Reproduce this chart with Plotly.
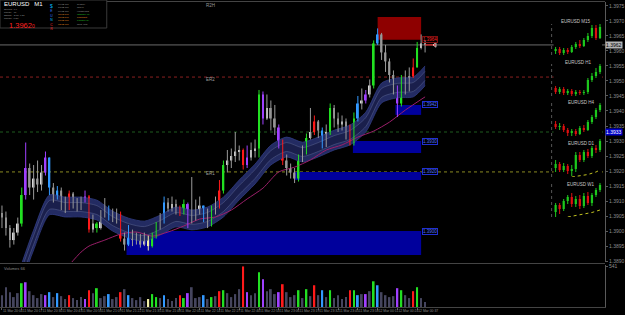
import plotly.graph_objects as go

# ---------------- main EURUSD M1 data ----------------
first_open = 1.3906
closes = [
    1.39045, 1.3901, 1.3897, 1.38995, 1.39025, 1.3912, 1.3921, 1.39145, 1.39175, 1.39155,
    1.39195, 1.39245, 1.39145, 1.39115, 1.39135, 1.39095, 1.39075, 1.39125, 1.39095, 1.39085,
    1.39105, 1.39115, 1.39005, 1.39025, 1.3901, 1.3905, 1.3907, 1.39055, 1.39045, 1.39055,
    1.38975, 1.38955, 1.38995, 1.3897, 1.38985, 1.38955, 1.38975, 1.3895, 1.38985, 1.39015,
    1.39035, 1.39095, 1.39075, 1.3909, 1.39075, 1.3906, 1.3909, 1.3903, 1.39055, 1.39065,
    1.39085, 1.3905, 1.39035, 1.39065, 1.39085, 1.39135, 1.3922, 1.39235, 1.3925, 1.39265,
    1.3927, 1.3922, 1.39245, 1.3927, 1.39275, 1.39455, 1.39375, 1.3941, 1.39375, 1.39345,
    1.39295, 1.39235, 1.3921, 1.39195, 1.39175, 1.39235, 1.39265, 1.3931, 1.3933, 1.39365,
    1.39335, 1.39285, 1.3933, 1.3941, 1.39375, 1.39355, 1.39365, 1.3933, 1.39295, 1.39375,
    1.39425, 1.39435, 1.39455, 1.39485, 1.39625, 1.39655, 1.39595, 1.39565, 1.3952, 1.39475,
    1.39425, 1.39505, 1.39475, 1.39515, 1.39545, 1.3961, 1.39625, 1.3962]
highs = [
    1.39085, 1.39065, 1.3902, 1.3901, 1.39045, 1.39145, 1.39295, 1.39225, 1.3922, 1.39235,
    1.3922, 1.39265, 1.39245, 1.3916, 1.3915, 1.39145, 1.39115, 1.39135, 1.3913, 1.3911,
    1.39115, 1.39135, 1.3912, 1.39055, 1.3903, 1.3907, 1.3911, 1.39085, 1.39075, 1.39075,
    1.39065, 1.38995, 1.3902, 1.39005, 1.38995, 1.3899, 1.38995, 1.38985, 1.38995, 1.3903,
    1.3906, 1.39115, 1.3911, 1.39115, 1.39105, 1.39085, 1.39105, 1.39095, 1.3918, 1.39105,
    1.39115, 1.39085, 1.39075, 1.39085, 1.39115, 1.3917, 1.39235, 1.3927, 1.39275, 1.3933,
    1.39285, 1.39275, 1.39285, 1.39295, 1.39305, 1.3947, 1.39465, 1.39455, 1.39435, 1.3942,
    1.39355, 1.39305, 1.39255, 1.39225, 1.3921, 1.39255, 1.39285, 1.39325, 1.3941, 1.39385,
    1.3937, 1.39345, 1.39355, 1.39425, 1.3942, 1.39395, 1.39385, 1.39375, 1.39355, 1.39395,
    1.3945, 1.39475, 1.3947, 1.39505, 1.39635, 1.39675, 1.3966, 1.3962, 1.39575, 1.39535,
    1.39485, 1.3952, 1.39535, 1.39545, 1.39575, 1.3963, 1.39655, 1.39635]
lows = [
    1.3901, 1.38985, 1.38945, 1.38955, 1.38985, 1.39015, 1.39105, 1.3912, 1.39105, 1.3913,
    1.39135, 1.39185, 1.3912, 1.39095, 1.39105, 1.3907, 1.3906, 1.3907, 1.39075, 1.39065,
    1.3907, 1.39095, 1.38995, 1.38995, 1.38995, 1.39005, 1.39045, 1.39035, 1.3903, 1.39025,
    1.38965, 1.38935, 1.3895, 1.3895, 1.38955, 1.38945, 1.3895, 1.38935, 1.38945, 1.38975,
    1.39005, 1.39025, 1.39065, 1.39065, 1.39055, 1.3905, 1.39055, 1.3901, 1.39025, 1.39035,
    1.39055, 1.3903, 1.3901, 1.39015, 1.39055, 1.39075, 1.39125, 1.39195, 1.3921, 1.3923,
    1.39235, 1.39205, 1.3921, 1.39235, 1.39245, 1.39245, 1.39355, 1.3937, 1.39335, 1.3932,
    1.39275, 1.3922, 1.39185, 1.39175, 1.3916, 1.39165, 1.3923, 1.39255, 1.39305, 1.3932,
    1.3931, 1.39275, 1.3928, 1.3932, 1.39345, 1.3933, 1.39335, 1.39305, 1.39285, 1.39285,
    1.39365, 1.39405, 1.39425, 1.39445, 1.39475, 1.3962, 1.3957, 1.3953, 1.39495, 1.39455,
    1.3938, 1.39415, 1.39455, 1.39465, 1.3951, 1.39545, 1.39605, 1.39595]
# indicator state per bar: n = neutral, g/r/b/p/y = highlighted states
signal = list("nnnnngpnnn" "npbnbnnrnn" "nprngnnbnn" "rnbnnnnygg" "nbnnnrgpnn"
              "nbngnrgnnn" "nrpnngpnnn" "prnnngngnr" "nbngnnnnrg" "bnpngbnnnn" "pgnnrgnn")
volumes = [
    158, 264, 198, 132, 185, 317, 330, 211, 158, 119,
    172, 158, 198, 132, 185, 145, 106, 158, 119, 92,
    132, 106, 224, 185, 251, 119, 145, 172, 106, 132,
    198, 238, 158, 119, 92, 132, 79, 106, 172, 132,
    119, 158, 106, 79, 119, 158, 119, 185, 264, 119,
    132, 158, 106, 132, 145, 211, 224, 185, 132, 172,
    238, 541, 198, 158, 185, 462, 370, 211, 238, 172,
    198, 304, 198, 132, 158, 224, 119, 238, 145, 290,
    158, 224, 132, 224, 119, 158, 106, 132, 224, 224,
    158, 172, 172, 211, 343, 290, 198, 158, 132, 145,
    251, 224, 158, 119, 211, 264, 119, 66]

band_bars = [4, 8, 12, 16, 20, 24, 28, 32, 36, 40, 44, 48, 52, 56, 60, 64, 68, 72,
             76, 80, 84, 88, 92, 96, 100, 104, 107]
band_mid = [1.3882, 1.3897, 1.39087, 1.3908, 1.3908, 1.3907, 1.39033, 1.3901, 1.3900,
            1.3902, 1.39047, 1.39037, 1.39047, 1.3908, 1.39137, 1.3919, 1.39253, 1.3928,
            1.39263, 1.3928, 1.39303, 1.3932, 1.39363, 1.3946, 1.39477, 1.3948, 1.39517]
band_half = 0.00033

ma_bars = [17, 20, 22, 26, 30, 34, 38, 42, 46, 50, 54, 58, 62, 66, 70, 74, 78, 82,
           86, 90, 94, 98, 102, 107]
ma_vals = [1.38887, 1.3893, 1.3895, 1.3897, 1.3899, 1.38997, 1.38983, 1.38997, 1.39017,
           1.3904, 1.39047, 1.3907, 1.39107, 1.39143, 1.39197, 1.39213, 1.39237, 1.3927,
           1.39287, 1.39313, 1.39333, 1.39363, 1.39403, 1.39447]

zone_start = [31.5, 74, 88.75, 99.5]
zone_end = [106, 106, 106, 106]
zone_top = [1.3900, 1.39197, 1.3930, 1.3942]
zone_bottom = [1.3892, 1.3917, 1.3926, 1.39387]
supply_start, supply_end, supply_top, supply_bottom = 95, 106, 1.39713, 1.39637

level_prices = [1.39513, 1.3933, 1.39197]
level_names = ["ER2", "", "ER1"]
top_level_price, top_level_name = 1.39752, "R2H"

time_ticks = list(range(0, 108, 5))
time_labels = ["11 Mar 20:04", "11 Mar 20:17", "11 Mar 20:30", "11 Mar 20:43", "11 Mar 20:56",
               "11 Mar 21:09", "11 Mar 21:22", "11 Mar 21:35", "11 Mar 21:48", "11 Mar 22:01",
               "11 Mar 22:14", "11 Mar 22:27", "11 Mar 22:40", "11 Mar 22:53", "11 Mar 23:06",
               "11 Mar 23:19", "11 Mar 23:32", "11 Mar 23:45", "11 Mar 23:58", "12 Mar 00:11",
               "12 Mar 00:24", "12 Mar 00:37"]

session_times = ["09:02 PM", "10:02 PM", "09:02 PM", "11:02 PM", "11:02 PM", "10:02 PM", "05:02 PM"]
session_names = ["Sydney", "Tokyo", "HongKong", "Istanbul (3)", "Frankfurt", "London (1)", "New York"]
info_rows = ["Spread:  0.9", "Range:   71", "Swaps:  -2.88  0.27", "Candle:  0:28"]
flag_letters = ["$", "E", "U", "N", "C", "R"]

# ---------------- other-timeframe mini charts ----------------
mini = [
    dict(name="EURUSD M15",
         o=[1.3949, 1.3951, 1.3947, 1.3950, 1.3948, 1.3953, 1.3956, 1.3954, 1.3960, 1.3964, 1.3972, 1.3962],
         c=[1.3951, 1.3947, 1.3950, 1.3948, 1.3953, 1.3956, 1.3954, 1.3960, 1.3964, 1.3972, 1.3962, 1.3973],
         h=[1.3953, 1.3953, 1.3952, 1.3952, 1.3955, 1.3958, 1.3960, 1.3962, 1.3967, 1.3975, 1.3975, 1.3976],
         l=[1.3946, 1.3945, 1.3945, 1.3946, 1.3947, 1.3951, 1.3952, 1.3953, 1.3958, 1.3962, 1.3960, 1.3961],
         ma_x=[], ma_y=[]),
    dict(name="EURUSD H1",
         o=[1.3912, 1.3908, 1.3911, 1.3907, 1.3909, 1.3906, 1.3908, 1.3907, 1.3908, 1.3920, 1.3924, 1.3928],
         c=[1.3908, 1.3911, 1.3907, 1.3909, 1.3906, 1.3908, 1.3907, 1.3908, 1.3920, 1.3924, 1.3928, 1.3934],
         h=[1.3914, 1.3913, 1.3913, 1.3911, 1.3911, 1.3910, 1.3910, 1.3910, 1.3922, 1.3927, 1.3932, 1.3936],
         l=[1.3906, 1.3906, 1.3905, 1.3905, 1.3904, 1.3904, 1.3905, 1.3905, 1.3906, 1.3918, 1.3922, 1.3926],
         ma_x=[], ma_y=[]),
    dict(name="EURUSD H4",
         o=[1.3876, 1.3873, 1.3874, 1.3870, 1.3867, 1.3869, 1.3866, 1.3872, 1.3870, 1.3878, 1.3883, 1.3890],
         c=[1.3873, 1.3874, 1.3870, 1.3867, 1.3869, 1.3866, 1.3872, 1.3870, 1.3878, 1.3883, 1.3890, 1.3895],
         h=[1.3879, 1.3877, 1.3876, 1.3872, 1.3871, 1.3871, 1.3874, 1.3875, 1.3880, 1.3885, 1.3892, 1.3897],
         l=[1.3871, 1.3870, 1.3868, 1.3864, 1.3864, 1.3864, 1.3865, 1.3868, 1.3869, 1.3876, 1.3881, 1.3888],
         ma_x=[], ma_y=[]),
    dict(name="EURUSD D1",
         o=[1.3832, 1.3836, 1.3830, 1.3834, 1.3829, 1.3831, 1.3845, 1.3840, 1.3848, 1.3844, 1.3852, 1.3850],
         c=[1.3836, 1.3830, 1.3834, 1.3829, 1.3831, 1.3845, 1.3840, 1.3848, 1.3844, 1.3852, 1.3850, 1.3859],
         h=[1.3840, 1.3838, 1.3837, 1.3836, 1.3835, 1.3848, 1.3848, 1.3850, 1.3851, 1.3854, 1.3855, 1.3861],
         l=[1.3828, 1.3828, 1.3828, 1.3826, 1.3824, 1.3828, 1.3838, 1.3838, 1.3842, 1.3842, 1.3847, 1.3848],
         ma_x=[4, 6, 8, 10, 11], ma_y=[1.3823, 1.3824, 1.38255, 1.3828, 1.3830]),
    dict(name="EURUSD W1",
         o=[1.3788, 1.3795, 1.3791, 1.3799, 1.3803, 1.3796, 1.3801, 1.3794, 1.3804, 1.3797, 1.3805, 1.3810],
         c=[1.3795, 1.3791, 1.3799, 1.3803, 1.3796, 1.3801, 1.3794, 1.3804, 1.3797, 1.3805, 1.3810, 1.3815],
         h=[1.3797, 1.3797, 1.3801, 1.3805, 1.3807, 1.3804, 1.3805, 1.3807, 1.3808, 1.3807, 1.3812, 1.3817],
         l=[1.3783, 1.3786, 1.3789, 1.3796, 1.3793, 1.3793, 1.3791, 1.3792, 1.3795, 1.3794, 1.3803, 1.3808],
         ma_x=[3, 5, 7, 9, 11], ma_y=[1.3783, 1.37845, 1.3786, 1.37875, 1.3790]),
]

# ---------------- styling / layout helpers ----------------
W, H = 625, 315
ML, MR, MT, MB = 0, 13, 2, 8
PW, PH = W - ML - MR, H - MT - MB
FONT = "Liberation Sans, Arial, sans-serif"


def px_x(px):
    return (px - ML) / PW


def px_y(py):
    return (H - MB - py) / PH


PALETTE = {"g": "#22e022", "r": "#ff1a1a", "b": "#3399ff", "p": "#a040ff", "y": "#f0eea8"}
BULL, BEAR, WICK = "#d6d6d6", "#8a8a8a", "#9a9a9a"
VOL_N = "#45455e"
mini_boxes = [(24, 55), (64, 96), (103, 136), (139, 177), (183, 217)]
mini_title_y = [21, 62, 102, 143, 184]
mini_title_x = [583, 585, 588, 588, 588]

fig = go.Figure()
n = len(closes)
idx = list(range(n))
opens = [first_open] + closes[:-1]

# ---- channel band ----
up = [m + band_half for m in band_mid]
lo = [m - band_half for m in band_mid]
iup = [m + band_half * 0.45 for m in band_mid]
ilo = [m - band_half * 0.45 for m in band_mid]
sp = dict(shape="spline", smoothing=0.7)
fig.add_trace(go.Scatter(x=band_bars, y=lo, mode="lines", line=dict(color="#303b80", width=0.8, **sp)))
fig.add_trace(go.Scatter(x=band_bars, y=up, mode="lines", fill="tonexty", fillcolor="#232b62",
                         line=dict(color="#303b80", width=0.8, **sp)))
fig.add_trace(go.Scatter(x=band_bars, y=ilo, mode="lines", line=dict(color="#5f6894", width=0.5, **sp)))
fig.add_trace(go.Scatter(x=band_bars, y=iup, mode="lines", fill="tonexty", fillcolor="#1a1f4c",
                         line=dict(color="#5f6894", width=0.5, **sp)))
# ---- moving average ----
fig.add_trace(go.Scatter(x=ma_bars, y=ma_vals, mode="lines", line=dict(color="#9b1f6a", width=1, **sp)))

# ---- candles ----
body_cols, wick_cols = [], []
for o, c, s in zip(opens, closes, signal):
    if s == "n":
        body_cols.append(BULL if c >= o else BEAR)
        wick_cols.append(WICK)
    else:
        body_cols.append(PALETTE[s])
        wick_cols.append(PALETTE[s])
groups = {}
for i in idx:
    g = groups.setdefault(wick_cols[i], ([], []))
    g[0].extend([i, i, None])
    g[1].extend([lows[i], highs[i], None])
for col, (wx, wy) in groups.items():
    fig.add_trace(go.Scatter(x=wx, y=wy, mode="lines", line=dict(color=col, width=1)))
fig.add_trace(go.Bar(x=idx, y=[max(abs(c - o), 0.00004) for o, c in zip(opens, closes)],
                     base=[min(o, c) for o, c in zip(opens, closes)], width=0.45,
                     marker=dict(color=body_cols, line=dict(width=0))))

# current price marker
fig.add_trace(go.Scatter(x=[n - 1, n + 1.5], y=[closes[-1], closes[-1]], mode="lines+markers",
                         line=dict(color="#ff2020", width=1),
                         marker=dict(color="#ff2020", size=[0, 4], symbol="triangle-left")))

# ---- volume ----
vol_cols = [VOL_N if s == "n" else PALETTE[s] for s in signal]
fig.add_trace(go.Bar(x=idx, y=volumes, width=0.45, marker=dict(color=vol_cols, line=dict(width=0)),
                     xaxis="x2", yaxis="y2"))

# ---- mini charts ----
layout_extra = {}
for k, p in enumerate(mini):
    yax = "y%d" % (k + 3)
    slots = list(range(len(p["o"])))
    for bull in (True, False):
        col = "#1ec81e" if bull else "#e01010"
        sel = [i for i in slots if (p["c"][i] >= p["o"][i]) == bull]
        wx, wy = [], []
        for i in sel:
            wx += [i, i, None]
            wy += [p["l"][i], p["h"][i], None]
        fig.add_trace(go.Scatter(x=wx, y=wy, mode="lines", line=dict(color=col, width=1),
                                 xaxis="x3", yaxis=yax))
        fig.add_trace(go.Bar(x=sel, y=[max(abs(p["c"][i] - p["o"][i]), 0.00006) for i in sel],
                             base=[min(p["c"][i], p["o"][i]) for i in sel], width=0.55,
                             marker=dict(color=col, line=dict(width=0)), xaxis="x3", yaxis=yax))
    if p["ma_x"]:
        fig.add_trace(go.Scatter(x=p["ma_x"], y=p["ma_y"], mode="lines",
                                 line=dict(color="#c0c020", width=1, dash="dot"), xaxis="x3", yaxis=yax))
    top, bot = mini_boxes[k]
    layout_extra["yaxis%d" % (k + 3)] = dict(domain=[px_y(bot), px_y(top)],
                                             range=[min(p["l"] + p["ma_y"]), max(p["h"])],
                                             visible=False, anchor="x3")

# ---------------- shapes ----------------
shapes = []
for s0, s1, t, b in zip(zone_start, zone_end, zone_top, zone_bottom):
    shapes.append(dict(type="rect", xref="x", yref="y", x0=s0, x1=s1, y0=b, y1=t,
                       fillcolor="#00009c", line=dict(width=0), layer="below"))
shapes.append(dict(type="rect", xref="x", yref="y", x0=supply_start, x1=supply_end,
                   y0=supply_bottom, y1=supply_top, fillcolor="#8e0000", line=dict(width=0), layer="below"))
level_styles = [("#8b2020", "dot"), ("#1e5a1e", "dot"), ("#8a8a22", "dot")]
for lp, (lc, ld) in zip(level_prices, level_styles):
    shapes.append(dict(type="line", xref="paper", yref="y", x0=0, x1=1, y0=lp, y1=lp,
                       line=dict(color=lc, width=1, dash=ld), layer="below"))
shapes.append(dict(type="line", xref="paper", yref="y", x0=0, x1=1, y0=closes[-1], y1=closes[-1],
                   line=dict(color="#6a6a6a", width=1), layer="below"))
for py in (1.5, 263.5):
    shapes.append(dict(type="line", xref="paper", yref="paper", x0=0, x1=1, y0=px_y(py), y1=px_y(py),
                       line=dict(color="#444444", width=1)))
for top, bot in mini_boxes:
    shapes.append(dict(type="line", xref="paper", yref="paper", x0=px_x(558), x1=px_x(558),
                       y0=px_y(bot), y1=px_y(top), line=dict(color="#555555", width=1, dash="dot")))
# info box
shapes.append(dict(type="rect", xref="paper", yref="paper", x0=px_x(0), x1=px_x(108),
                   y0=px_y(28), y1=px_y(0), fillcolor="#000000", line=dict(color="#3a3a3a", width=1)))

# ---------------- annotations ----------------
ann = []


def label(px, py, text, color, size, xanchor="left", yanchor="middle", **kw):
    ann.append(dict(x=px_x(px), y=px_y(py), xref="paper", yref="paper", text=text, showarrow=False,
                    font=dict(color=color, size=size, family=FONT), xanchor=xanchor, yanchor=yanchor,
                    borderpad=0, **kw))


def colored_block(items, colors):
    return "<br>".join("<span style='color:%s'>%s</span>" % (c, t) for t, c in zip(items, colors))


label(3, 4, "EURUSD   M1", "#ffffff", 6)
label(3, 7, "<br>".join(info_rows), "#9a9a9a", 2.4, yanchor="top", align="left")
label(8, 25.8, "1.3962<span style='font-size:5px'>0</span>", "#ff2020", 7.5)
flag_cols = ["#00b4ff", "#3a7bff", "#3a7bff", "#00c0ff", "#ff3030", "#ff3030"]
flag_text = "<span style='font-size:5px;color:%s'>%s</span><br>" % (flag_cols[0], flag_letters[0]) + \
    colored_block(flag_letters[1:], flag_cols[1:])
label(50, 1.5, flag_text, "#3a7bff", 3.4, yanchor="top", align="center")
time_cols = ["#9a9a9a", "#9a9a9a", "#9a9a9a", "#e08a20", "#e08a20", "#e08a20", "#e08a20"]
name_cols = ["#9a9a9a", "#9a9a9a", "#9a9a9a", "#22c022", "#e08a20", "#22c022", "#9a9a9a"]
label(58, 2, colored_block(session_times, time_cols), "#9a9a9a", 2.5, yanchor="top", align="left")
label(77, 2, colored_block(session_names, name_cols), "#9a9a9a", 2.5, yanchor="top", align="left")

# level labels
for lp, nm in zip(level_prices, level_names):
    if nm:
        ann.append(dict(x=52.75, y=lp, xref="x", yref="y", text=nm, showarrow=False,
                        font=dict(color="#9a9a9a", size=4.5, family=FONT), yshift=-2))
ann.append(dict(x=52.75, y=top_level_price, xref="x", yref="y", text=top_level_name, showarrow=False,
                font=dict(color="#9a9a9a", size=4.5, family=FONT)))
# zone labels
for t in zone_top:
    ann.append(dict(x=106.3, y=t, xref="x", yref="y", text="%.4f" % t, showarrow=False, xanchor="left",
                    yanchor="middle", font=dict(color="#5070ff", size=4.5, family=FONT),
                    bordercolor="#2030d0", borderwidth=1, borderpad=0, bgcolor="#000000"))
ann.append(dict(x=106.3, y=supply_bottom, xref="x", yref="y", text="%.4f" % supply_bottom, showarrow=False,
                xanchor="left", yanchor="middle", font=dict(color="#ff2020", size=4.5, family=FONT),
                bordercolor="#801010", borderwidth=1, borderpad=0))
# axis highlight labels
ann.append(dict(x=1, y=closes[-1], xref="paper", yref="y", text="%.4f" % closes[-1], showarrow=False,
                xanchor="left", yanchor="middle", font=dict(color="#000000", size=5, family=FONT),
                bgcolor="#b4b4b4", borderpad=0))
ann.append(dict(x=1, y=level_prices[1], xref="paper", yref="y", text="%.4f" % level_prices[1],
                showarrow=False, xanchor="left", yanchor="middle",
                font=dict(color="#ffffff", size=5, family=FONT), bgcolor="#0000c8", borderpad=0))
# mini titles
for p, ty, tx in zip(mini, mini_title_y, mini_title_x):
    label(tx, ty, p["name"], "#c8c8c8", 4.5, xanchor="center")
# volume label
label(3, 268, "Volumes %d" % volumes[-1], "#8a8a8a", 4)

axis_font = dict(color="#8c8c8c", size=5, family=FONT)
fig.update_layout(
    width=W, height=H, margin=dict(l=ML, r=MR, t=MT, b=MB),
    paper_bgcolor="#000000", plot_bgcolor="#000000",
    showlegend=False, hovermode=False, barmode="overlay",
    xaxis=dict(domain=[0, 1], range=[-0.5, 152.5], showticklabels=False, showgrid=False,
               zeroline=False, ticks="", anchor="y"),
    yaxis=dict(domain=[px_y(262), 1], range=[1.38897, 1.39763], side="right", dtick=0.0005,
               tickformat=".4f", tickfont=axis_font, showgrid=False, zeroline=False, showline=True,
               linecolor="#5a5a5a", ticks="outside", ticklen=2, tickcolor="#5a5a5a", anchor="x"),
    xaxis2=dict(domain=[0, 1], matches="x", anchor="y2", tickvals=time_ticks, ticktext=time_labels,
                tickfont=dict(color="#8c8c8c", size=3.4, family=FONT), tickangle=0,
                ticklabelposition="outside right", ticks="outside", ticklen=2, tickcolor="#5a5a5a",
                showgrid=False, zeroline=False, showline=True, linecolor="#444444"),
    yaxis2=dict(domain=[0, px_y(265)], range=[0, 560], side="right", tickvals=[max(volumes)],
                tickfont=axis_font, showgrid=False, zeroline=False, showline=True,
                linecolor="#5a5a5a", ticks="outside", ticklen=2, tickcolor="#5a5a5a", anchor="x2"),
    xaxis3=dict(domain=[px_x(560), px_x(609)], range=[-0.5, 11.5], visible=False, anchor="y3"),
    shapes=shapes, annotations=ann,
)
fig.update_layout(**layout_extra)
fig.update_traces(hoverinfo="skip", selector=dict(type="scatter"))

fig.write_html("out.html")
